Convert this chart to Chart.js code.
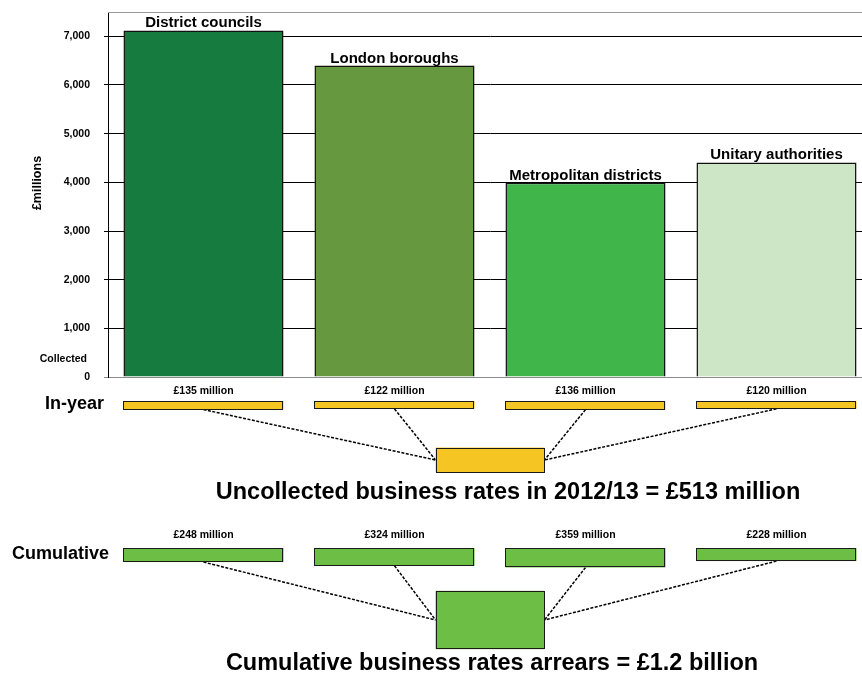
<!DOCTYPE html>
<html>
<head>
<meta charset="utf-8">
<title>Business rates collected and uncollected</title>
<script src="https://cdn.jsdelivr.net/npm/chart.js@4.4.1/dist/chart.umd.min.js"></script>
<style>
  html, body { margin: 0; padding: 0; background: #fff; overflow: hidden; }
  #wrap { width: 872px; height: 673px; }
</style>
</head>
<body>
<div id="wrap"><canvas id="ratesChart" width="872" height="673"></canvas></div>
<script>
// Authority types (one bar each)
const categories = ['District councils', 'London boroughs', 'Metropolitan districts', 'Unitary authorities'];
// Business rates collected, £ millions
const collected = [7120, 6400, 3990, 4410];
// Uncollected in-year 2012/13, £ millions
const inYear = [135, 122, 136, 120];
// Cumulative arrears, £ millions
const cumulative = [248, 324, 359, 228];
// Totals shown in the two summary boxes
const inYearTotal = 513;
const cumulativeTotal = 1200;
// Y axis tick values
const yTicks = [0, 1000, 2000, 3000, 4000, 5000, 6000, 7000];

const barColors = ['#167B3F', '#65983F', '#40B54A', '#CDE6C6'];
const FONT = '"Liberation Sans", Arial, sans-serif';

function drawBox(ctx, x, y, w, h, fill) {
    ctx.fillStyle = fill;
    ctx.fillRect(x, y, w, h);
    ctx.strokeStyle = '#1a1a1a';
    ctx.lineWidth = 1;
    ctx.strokeRect(Math.round(x) + 0.5, Math.round(y) + 0.5, Math.round(w) - 1, Math.round(h) - 1);
}

function drawText(ctx, text, x, y, size, align, baseline) {
    ctx.font = `bold ${size}px ${FONT}`;
    ctx.fillStyle = '#000';
    ctx.textAlign = align || 'center';
    ctx.textBaseline = baseline || 'middle';
    ctx.fillText(text, x, y);
}

// Draws one row of small boxes (in-year or cumulative) plus the summary box they feed
function drawRow(ctx, bars, values, total, pxPerMillion, row) {
    const catWidth = bars[1].x - bars[0].x;
    const sumX = (bars[1].x + bars[2].x) / 2;
    const sumW = catWidth * 0.57;
    const sumH = total * pxPerMillion;
    const sumLeft = sumX - sumW / 2;
    const sumTop = row.sumMid - sumH / 2;

    // dashed connectors first, so the boxes sit on top
    ctx.save();
    ctx.setLineDash([3, 1.5]);
    ctx.strokeStyle = '#000';
    ctx.lineWidth = 1.5;
    bars.forEach((bar, i) => {
        const h = values[i] * pxPerMillion + 2;
        const endX = i < 2 ? sumLeft : sumLeft + sumW;
        ctx.beginPath();
        ctx.moveTo(bar.x, row.boxTop + h);
        ctx.lineTo(endX, row.sumMid);
        ctx.stroke();
    });
    ctx.restore();

    bars.forEach((bar, i) => {
        const h = values[i] * pxPerMillion + 2;
        drawBox(ctx, bar.x - bar.width / 2, row.boxTop, bar.width, h, row.fill);
        drawText(ctx, `£${values[i]} million`, bar.x, row.labelY, 10.5);
    });

    drawBox(ctx, sumLeft, sumTop, sumW, sumH, row.fill);
}

const ratesPlugin = {
    id: 'ratesAnnotations',
    afterDatasetsDraw(chart) {
        const { ctx, chartArea } = chart;
        const yScale = chart.scales.y;
        const bars = chart.getDatasetMeta(0).data;
        const pxPerMillion = (yScale.getPixelForValue(0) - yScale.getPixelForValue(1000)) / 1000;

        // grey frame line along the top of the plot
        ctx.save();
        ctx.strokeStyle = '#9a9a9a';
        ctx.lineWidth = 1;
        ctx.beginPath();
        ctx.moveTo(chartArea.left, chartArea.top + 0.5);
        ctx.lineTo(chart.width, chartArea.top + 0.5);
        ctx.stroke();

        // category names above bars
        bars.forEach((bar, i) => {
            drawText(ctx, categories[i], bar.x, bar.y - 3, 15, 'center', 'alphabetic');
        });

        // axis captions
        drawText(ctx, 'Collected', 87, 359, 10.5, 'right');
        ctx.save();
        ctx.translate(38, 183);
        ctx.rotate(-Math.PI / 2);
        drawText(ctx, '£millions', 0, 0, 12.5);
        ctx.restore();

        // In-year row
        drawText(ctx, 'In-year', 104, 404, 18, 'right');
        drawRow(ctx, bars, inYear, inYearTotal, pxPerMillion,
            { labelY: 391, boxTop: 401, sumMid: 460, fill: '#F5C623' });
        drawText(ctx, `Uncollected business rates in 2012/13 = £${inYearTotal} million`, 508, 499, 23.5, 'center', 'alphabetic');

        // Cumulative row
        drawText(ctx, 'Cumulative', 109, 554, 18, 'right');
        drawRow(ctx, bars, cumulative, cumulativeTotal, pxPerMillion,
            { labelY: 535, boxTop: 548, sumMid: 620, fill: '#6DBE45' });
        drawText(ctx, `Cumulative business rates arrears = £${(cumulativeTotal / 1000).toFixed(1)} billion`, 492, 670, 23.5, 'center', 'alphabetic');
        ctx.restore();
    }
};

new Chart(document.getElementById('ratesChart'), {
    type: 'bar',
    data: {
        labels: categories,
        datasets: [{
            label: 'Collected',
            data: collected,
            backgroundColor: barColors,
            borderColor: '#111',
            borderWidth: 1.5,
            barPercentage: 0.838,
            categoryPercentage: 1
        }]
    },
    options: {
        responsive: false,
        animation: false,
        layout: { padding: { top: 12, bottom: 296, left: 0, right: 0 } },
        plugins: { legend: { display: false }, tooltip: { enabled: false } },
        scales: {
            x: {
                ticks: { display: false },
                grid: { display: false },
                border: { display: true, color: '#8a8a8a', width: 1 },
                afterFit: (scale) => { scale.height = 0; }
            },
            y: {
                min: 0,
                max: 7500,
                afterBuildTicks: (scale) => { scale.ticks = yTicks.map(v => ({ value: v })); },
                afterFit: (scale) => { scale.width = 108; scale.paddingTop = 0; },
                ticks: {
                    padding: 14,
                    color: '#000',
                    font: { family: FONT, size: 10.5, weight: 'bold' },
                    callback: (v) => v.toLocaleString('en-US')
                },
                grid: {
                    color: (c) => c.tick && c.tick.value === 0 ? '#8a8a8a' : '#000',
                    lineWidth: 1,
                    tickLength: 4
                },
                border: { color: '#000', width: 1 }
            }
        }
    },
    plugins: [ratesPlugin]
});
</script>
</body>
</html>
